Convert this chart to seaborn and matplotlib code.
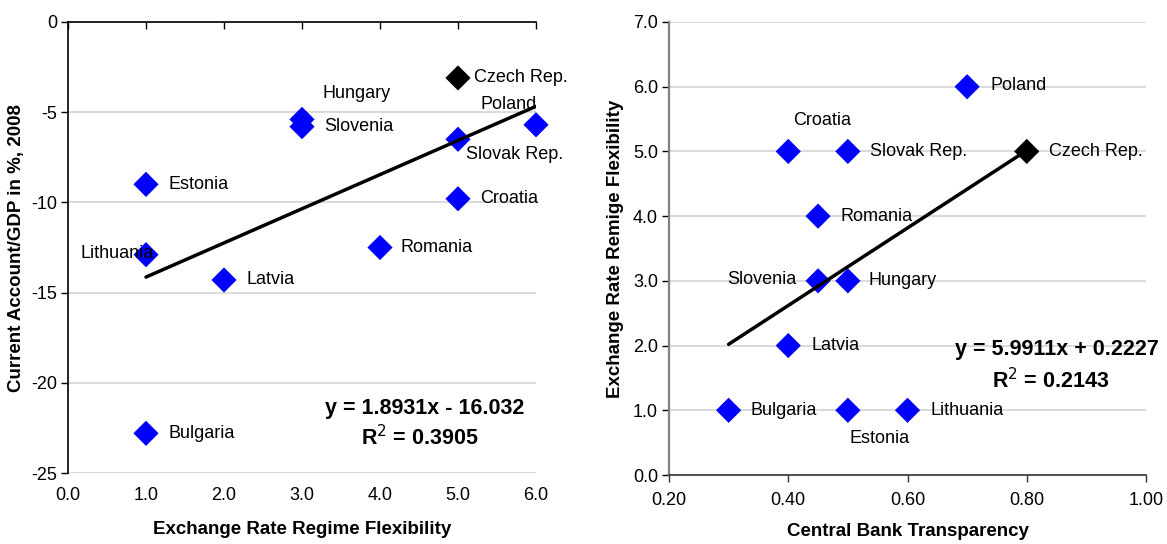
import numpy as np
import pandas as pd
import matplotlib
matplotlib.use("Agg")
import matplotlib.pyplot as plt
import seaborn as sns

sns.set_theme(style="white")
plt.rcParams['font.family'] = ['Liberation Sans', 'DejaVu Sans']
plt.rcParams.update({"text.color": "black", "axes.labelcolor": "black",
                     "xtick.color": "black", "ytick.color": "black"})

# ---------------- data ----------------
countries = ["Czech Rep.", "Hungary", "Slovenia", "Poland", "Slovak Rep.", "Estonia",
             "Croatia", "Lithuania", "Romania", "Latvia", "Bulgaria"]
flexibility = [5.0, 3.0, 3.0, 6.0, 5.0, 1.0, 5.0, 1.0, 4.0, 2.0, 1.0]
current_account = [-3.1, -5.4, -5.8, -5.7, -6.5, -9.0, -9.8, -12.9, -12.5, -14.3, -22.8]
transparency = [0.80, 0.50, 0.45, 0.70, 0.50, 0.50, 0.40, 0.60, 0.45, 0.40, 0.30]
highlight = ["Czech Rep."]

left_trend = [1.8931, -16.032]
left_r2 = 0.3905
right_trend = [5.9911, 0.2227]
right_r2 = 0.2143

left_xticks = [0, 1, 2, 3, 4, 5, 6]
left_xticklabels = ["0.0", "1.0", "2.0", "3.0", "4.0", "5.0", "6.0"]
left_yticks = [0, -5, -10, -15, -20, -25]
left_yticklabels = ["0", "-5", "-10", "-15", "-20", "-25"]
right_xticks = [0.2, 0.4, 0.6, 0.8, 1.0]
right_xticklabels = ["0.20", "0.40", "0.60", "0.80", "1.00"]
right_yticks = [0, 1, 2, 3, 4, 5, 6, 7]
right_yticklabels = ["0.0", "1.0", "2.0", "3.0", "4.0", "5.0", "6.0", "7.0"]

# label offsets in pixels (dx, dy, ha)
left_label_pos = {
    "Czech Rep.": (16, 0, "left"), "Hungary": (20, 26, "left"), "Slovenia": (22, 0, "left"),
    "Poland": (-56, 20, "left"), "Slovak Rep.": (8, -15, "left"), "Estonia": (23, 0, "left"),
    "Croatia": (22, 0, "left"), "Lithuania": (8, 1, "right"), "Romania": (21, 0, "left"),
    "Latvia": (23, 0, "left"), "Bulgaria": (23, 0, "left"),
}
right_label_pos = {
    "Czech Rep.": (22, 0, "left"), "Hungary": (21, 0, "left"), "Slovenia": (-22, 1, "right"),
    "Poland": (23, 1, "left"), "Slovak Rep.": (22, 0, "left"), "Estonia": (2, -28, "left"),
    "Croatia": (5, 31, "left"), "Lithuania": (23, 0, "left"), "Romania": (22, 0, "left"),
    "Latvia": (23, 0, "left"), "Bulgaria": (22, 0, "left"),
}

df = pd.DataFrame({"country": countries, "flex": flexibility, "ca": current_account,
                   "cbt": transparency})
df["grp"] = np.where(df["country"].isin(highlight), "hl", "base")
palette = {"base": "#0000FF", "hl": "#000000"}

fig = plt.figure(figsize=(11.67, 5.44), dpi=100)
ax1 = fig.add_axes([68/1167, 1-473/544, 468/1167, 451/544])
ax2 = fig.add_axes([669/1167, 1-475/544, 477/1167, 453/544])

PX = 72/100  # pixels -> points
LBL = 13

def draw(ax, xcol, ycol, trend, labelpos):
    sns.scatterplot(data=df, x=xcol, y=ycol, hue="grp", palette=palette, marker="D",
                    s=165, edgecolor="none", legend=False, ax=ax, zorder=3, clip_on=False)
    xs = np.array([df[xcol].min(), df[xcol].max()])
    ys = trend[0]*xs + trend[1]
    sns.lineplot(x=xs, y=ys, color="black", lw=2.5, ax=ax, zorder=4)
    for _, r in df.iterrows():
        dx, dy, ha = labelpos[r["country"]]
        ax.annotate(r["country"], (r[xcol], r[ycol]), xytext=(dx*PX, dy*PX),
                    textcoords="offset points", ha=ha, va="center", fontsize=LBL,
                    color="black", zorder=5)

draw(ax1, "flex", "ca", left_trend, left_label_pos)
draw(ax2, "cbt", "flex", right_trend, right_label_pos)

# ---- left axes styling
ax1.set_xlim(0, 6)
ax1.set_ylim(-25, 0)
ax1.set_xticks(left_xticks)
ax1.set_xticklabels(left_xticklabels)
ax1.set_yticks(left_yticks)
ax1.set_yticklabels(left_yticklabels)
for s in ["right", "bottom"]:
    ax1.spines[s].set_visible(False)
for s in ["left", "top"]:
    ax1.spines[s].set_color("black")
    ax1.spines[s].set_linewidth(1.2)
ax1.yaxis.grid(True, color="#d4d4d4", lw=1.2)
ax1.set_axisbelow(True)
ax1.tick_params(axis="y", direction="out", length=5, width=1, color="black",
                labelsize=13, pad=3, left=True)
ax1.tick_params(axis="x", which="both", bottom=False, top=True, direction="in",
                length=5, width=1, color="black", labelsize=13, pad=10, labelbottom=True)
ax1.set_xlabel("Exchange Rate Regime Flexibility", fontsize=13.5, fontweight="bold", labelpad=12)
ax1.set_ylabel("Current Account/GDP in %, 2008", fontsize=13.5, fontweight="bold", labelpad=4)
ax1.text(0.763, 0.144, f"y = {left_trend[0]:.4f}x - {abs(left_trend[1]):.3f}",
         transform=ax1.transAxes, ha="center", va="center", fontsize=15.5, fontweight="bold")
ax1.text(0.752, 0.078, f"R$^2$ = {left_r2:.4f}", transform=ax1.transAxes,
         ha="center", va="center", fontsize=15.5, fontweight="bold")

# ---- right axes styling
ax2.set_xlim(0.2, 1.0)
ax2.set_ylim(0, 7)
ax2.set_xticks(right_xticks)
ax2.set_xticklabels(right_xticklabels)
ax2.set_yticks(right_yticks)
ax2.set_yticklabels(right_yticklabels)
for s in ["right", "top"]:
    ax2.spines[s].set_visible(False)
ax2.spines["left"].set_color("#808080")
ax2.spines["left"].set_linewidth(1.6)
ax2.spines["bottom"].set_color("#333333")
ax2.spines["bottom"].set_linewidth(1.2)
ax2.yaxis.grid(True, color="#d4d4d4", lw=1.2)
ax2.set_axisbelow(True)
ax2.tick_params(axis="y", direction="out", length=5, width=1, color="black",
                labelsize=13, pad=3, left=True)
ax2.tick_params(axis="x", direction="out", length=5, width=1, color="#333333",
                labelsize=13, pad=7, bottom=True)
ax2.set_xlabel("Central Bank Transparency", fontsize=13.5, fontweight="bold", labelpad=10)
ax2.set_ylabel("Exchange Rate Remige Flexibility", fontsize=13.5, fontweight="bold", labelpad=6)
ax2.text(0.813, 0.276, f"y = {right_trend[0]:.4f}x + {right_trend[1]:.4f}",
         transform=ax2.transAxes, ha="center", va="center", fontsize=15.5, fontweight="bold")
ax2.text(0.80, 0.2075, f"R$^2$ = {right_r2:.4f}", transform=ax2.transAxes,
         ha="center", va="center", fontsize=15.5, fontweight="bold")

fig.savefig("out.png", dpi=100)
